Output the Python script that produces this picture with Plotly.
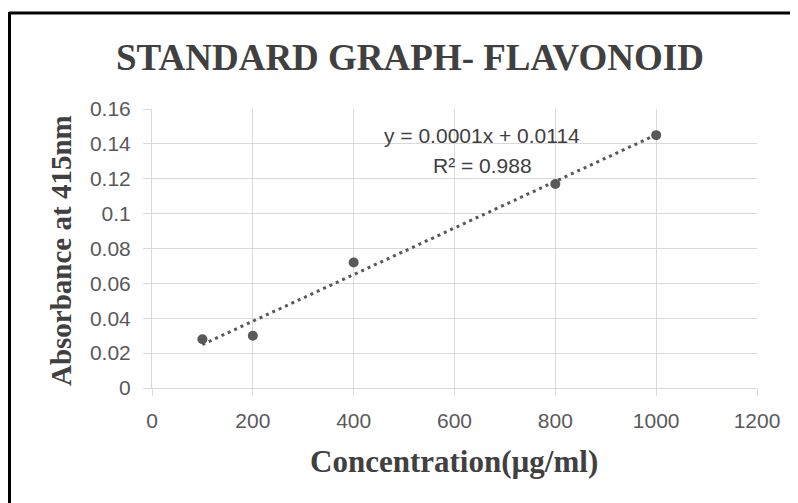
import numpy as np
import plotly.graph_objects as go

concentration = [100, 200, 400, 800, 1000]
absorbance = [0.028, 0.030, 0.072, 0.117, 0.145]

x_ticks = [0, 200, 400, 600, 800, 1000, 1200]
y_ticks = [0, 0.02, 0.04, 0.06, 0.08, 0.1, 0.12, 0.14, 0.16]
y_tick_labels = ["0", "0.02", "0.04", "0.06", "0.08", "0.1", "0.12", "0.14", "0.16"]

title_text = "STANDARD GRAPH- FLAVONOID"
x_title = "Concentration(µg/ml)"
y_title = "Absorbance at 415nm"
equation_text = "y = 0.0001x + 0.0114"
r2_text = "R² = 0.988"

# linear trendline from the data
slope, intercept = np.polyfit(concentration, absorbance, 1)
trend_x = [min(concentration), max(concentration)]
trend_y = [slope * v + intercept for v in trend_x]

# page has an 8px body margin; lay out in page pixel coordinates
OFF = 8
PAGE_W, PAGE_H = 798, 503
PLOT_L, PLOT_R, PLOT_T, PLOT_B = 152, 757, 109, 388  # page pixels
W, H = PAGE_W - OFF, PAGE_H - OFF
ML = PLOT_L - OFF
MT = PLOT_T - OFF
MR = W - (PLOT_R - OFF)
MB = H - (PLOT_B - OFF)
PW, PH = PLOT_R - PLOT_L, PLOT_B - PLOT_T


def px_x(px):
    return (px - PLOT_L) / PW


def px_y(py):
    return (PLOT_B - py) / PH


GRID = "#d9d9d9"
TICKCOL = "#595959"
SERIES = "#595959"
TITLECOL = "#404040"

fig = go.Figure()
fig.add_trace(go.Scatter(
    x=trend_x, y=trend_y, mode="lines",
    line=dict(color=SERIES, width=3, dash="3px,4px"),
    hoverinfo="skip", showlegend=False,
))
fig.add_trace(go.Scatter(
    x=concentration, y=absorbance, mode="markers",
    marker=dict(color=SERIES, size=10, line=dict(width=0)),
    showlegend=False,
))

tick_font = dict(family="Liberation Sans, Arial, sans-serif", size=21, color=TICKCOL)
serif_bold = "Liberation Serif, Times New Roman, serif"

fig.update_xaxes(
    range=[0, 1200], tickvals=x_ticks, ticktext=[str(v) for v in x_ticks],
    showgrid=True, gridcolor=GRID, gridwidth=1,
    showline=True, linecolor=GRID, linewidth=1,
    ticks="outside", ticklen=7, tickcolor=GRID, tickwidth=1,
    tickfont=tick_font, zeroline=False, ticklabelstandoff=7,
)
fig.update_yaxes(
    range=[0, 0.16], tickvals=y_ticks, ticktext=y_tick_labels,
    showgrid=True, gridcolor=GRID, gridwidth=1,
    showline=True, linecolor=GRID, linewidth=1,
    ticks="outside", ticklen=8, tickcolor=GRID, tickwidth=1,
    tickfont=tick_font, zeroline=False, ticklabelstandoff=8,
)

annotations = [
    dict(text=f"<b>{title_text}</b>", x=px_x(409.5), y=px_y(57), xref="paper", yref="paper",
         xanchor="center", yanchor="middle", showarrow=False,
         font=dict(family=serif_bold, size=37, color=TITLECOL)),
    dict(text=f"<b>{x_title}</b>", x=px_x(454), y=px_y(461), xref="paper", yref="paper",
         xanchor="center", yanchor="middle", showarrow=False,
         font=dict(family=serif_bold, size=31, color=TITLECOL)),
    dict(text=f"<b>{y_title}</b>", x=px_x(61), y=px_y(251), xref="paper", yref="paper",
         xanchor="center", yanchor="middle", showarrow=False, textangle=-90,
         font=dict(family=serif_bold, size=29, color=TITLECOL)),
    dict(text=equation_text, x=px_x(482), y=px_y(135), xref="paper", yref="paper",
         xanchor="center", yanchor="middle", showarrow=False,
         font=dict(family="Liberation Sans, Arial, sans-serif", size=21, color=TITLECOL)),
    dict(text=r2_text, x=px_x(482), y=px_y(165), xref="paper", yref="paper",
         xanchor="center", yanchor="middle", showarrow=False,
         font=dict(family="Liberation Sans, Arial, sans-serif", size=21, color=TITLECOL)),
]

shapes = [
    dict(type="line", xref="paper", yref="paper",
         x0=px_x(9), y0=px_y(13), x1=px_x(800), y1=px_y(13),
         line=dict(color="black", width=3)),
    dict(type="line", xref="paper", yref="paper",
         x0=px_x(9.5), y0=px_y(12), x1=px_x(9.5), y1=px_y(505),
         line=dict(color="black", width=3)),
]

fig.update_layout(
    width=W, height=H,
    margin=dict(l=ML, r=MR, t=MT, b=MB, autoexpand=False),
    paper_bgcolor="white", plot_bgcolor="white",
    annotations=annotations, shapes=shapes,
    showlegend=False,
)

fig.write_html("out.html")
